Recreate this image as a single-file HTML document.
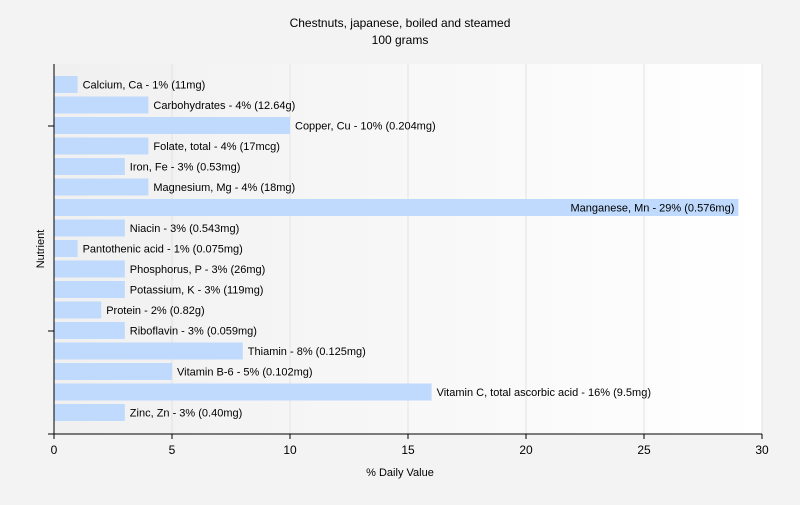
<!DOCTYPE html>
<html><head><meta charset="utf-8"><style>
body{margin:0;background:#f3f3f3;font-family:"Liberation Sans",sans-serif;}
</style></head><body>
<svg width="800" height="500" xmlns="http://www.w3.org/2000/svg">
<defs><linearGradient id="bg" x1="0" x2="1" y1="0" y2="0"><stop offset="0" stop-color="#f0f0f0"/><stop offset="1" stop-color="#ffffff"/></linearGradient></defs>
<text x="400" y="27" text-anchor="middle" font-size="12">Chestnuts, japanese, boiled and steamed</text>
<text x="400" y="44" text-anchor="middle" font-size="12">100 grams</text>
<rect x="54" y="64" width="708" height="370" fill="url(#bg)"/>
<g id="grid"></g><g id="bars"></g><g id="axes"></g>
<text x="400" y="476" text-anchor="middle" font-size="11">% Daily Value</text>
<text transform="translate(44,249) rotate(-90)" text-anchor="middle" font-size="11">Nutrient</text>
</svg>
<script>
const categories=["Calcium, Ca","Carbohydrates","Copper, Cu","Folate, total","Iron, Fe","Magnesium, Mg","Manganese, Mn","Niacin","Pantothenic acid","Phosphorus, P","Potassium, K","Protein","Riboflavin","Thiamin","Vitamin B-6","Vitamin C, total ascorbic acid","Zinc, Zn"];
const values=[1,4,10,4,3,4,29,3,1,3,3,2,3,8,5,16,3];
const amounts=["11mg","12.64g","0.204mg","17mcg","0.53mg","18mg","0.576mg","0.543mg","0.075mg","26mg","119mg","0.82g","0.059mg","0.125mg","0.102mg","9.5mg","0.40mg"];
const xTicks=[0,5,10,15,20,25,30];
const NS="http://www.w3.org/2000/svg";
const x=v=>54+v*23.6;
const y=i=>76+i*20.5;
function mk(t,a,p){const e=document.createElementNS(NS,t);for(const k in a)e.setAttribute(k,a[k]);p.appendChild(e);return e;}
const grid=document.getElementById('grid'),bars=document.getElementById('bars'),axes=document.getElementById('axes');
xTicks.forEach(t=>{
 if(t>0){const g=mk('line',{x1:x(t),x2:x(t),y1:64,y2:434,stroke:'#e2e2e2'},grid);
 
 }
 const tk=mk('line',{x1:x(t),x2:x(t),y1:434,y2:439,stroke:'#000'},axes);
 
 
 const l=mk('text',{x:x(t),y:454,'text-anchor':'middle','font-size':12},axes);l.textContent=t;
 
 
});
categories.forEach((c,i)=>{
 const r=mk('rect',{x:x(0),y:y(i),width:x(values[i])-x(0),height:17,fill:'#bfdafc'},bars);
 
 
 const lab=c+' - '+values[i]+'% ('+amounts[i]+')';
 const inside=values[i]>20;
 const t=mk('text',{x:inside?x(values[i])-4:x(values[i])+5,y:y(i)+12.5,'font-size':11,'text-anchor':inside?'end':'start'},bars);
 t.textContent=lab;
 
 
});
[[54,64,54,434],[48,434,762,434],[48,126,54,126],[48,331,54,331]].forEach((a,i)=>{
 const l=mk('line',{x1:a[0],y1:a[1],x2:a[2],y2:a[3],stroke:'#000'},axes);
 
 
});
</script>
</body></html>
